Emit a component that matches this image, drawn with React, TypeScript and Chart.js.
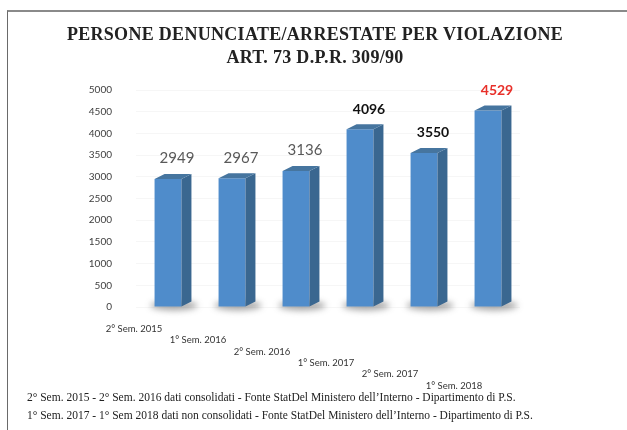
import React, { useEffect, useRef } from "react";
import { Chart, registerables } from "chart.js";

Chart.register(...registerables);

const TITLE_LINES = ["PERSONE DENUNCIATE/ARRESTATE PER VIOLAZIONE", "ART. 73 D.P.R. 309/90"];
const CATEGORIES = ["2° Sem. 2015", "1° Sem. 2016", "2° Sem. 2016", "1° Sem. 2017", "2° Sem. 2017", "1° Sem. 2018"];
const VALUES = [2949, 2967, 3136, 4096, 3550, 4529];
const LABEL_COLORS = ["#595959", "#595959", "#595959", "#111111", "#111111", "#e8302a"];
const LABEL_BOLD = [false, false, false, true, true, true];
const Y_MIN = 0;
const Y_MAX = 5000;
const Y_STEP = 500;
const FOOTNOTES = [
  "2° Sem. 2015 - 2° Sem. 2016 dati consolidati - Fonte StatDel Ministero dell’Interno - Dipartimento di P.S.",
  "1° Sem. 2017 - 1° Sem 2018 dati non consolidati - Fonte StatDel Ministero dell’Interno - Dipartimento di P.S.",
];

const FRONT = "#4f8ccb";
const SIDE = "#3a6790";
const TOP = "#46759f";
const DX = 10;
const DY = 5;

const bar3dPlugin = {
  id: "bar3d",
  beforeDatasetsDraw(chart: any) {
    const ctx = chart.ctx;
    const meta = chart.getDatasetMeta(0);
    ctx.save();
    meta.data.forEach((el: any) => {
      const { x, base, width } = el.getProps(["x", "base", "width"], true);
      ctx.save();
      ctx.filter = "blur(3px)";
      ctx.fillStyle = "rgba(60,60,60,0.45)";
      ctx.beginPath();
      ctx.ellipse(x + 6, base - 1, width / 2 + 10, 5, 0, 0, Math.PI * 2);
      ctx.fill();
      ctx.restore();
    });
    ctx.restore();
  },
  afterDatasetsDraw(chart: any) {
    const ctx = chart.ctx;
    const meta = chart.getDatasetMeta(0);
    ctx.save();
    meta.data.forEach((el: any, i: number) => {
      const { x, y, base, width } = el.getProps(["x", "y", "base", "width"], true);
      const l = x - width / 2;
      const r = x + width / 2;
      ctx.fillStyle = SIDE;
      ctx.beginPath();
      ctx.moveTo(r, y);
      ctx.lineTo(r + DX, y - DY);
      ctx.lineTo(r + DX, base - DY);
      ctx.lineTo(r, base);
      ctx.closePath();
      ctx.fill();
      ctx.fillStyle = TOP;
      ctx.beginPath();
      ctx.moveTo(l, y);
      ctx.lineTo(l + DX, y - DY);
      ctx.lineTo(r + DX, y - DY);
      ctx.lineTo(r, y);
      ctx.closePath();
      ctx.fill();

      const bold = LABEL_BOLD[i];
      ctx.font = (bold ? "bold 14px" : "15px") + " Lato, 'Open Sans', sans-serif";
      ctx.fillStyle = LABEL_COLORS[i];
      ctx.textAlign = "center";
      ctx.textBaseline = "bottom";
      ctx.fillText(String(VALUES[i]), x + 9, y - DY - 8);
    });
    ctx.restore();
  },
};

export default function App() {
  const ref = useRef<HTMLCanvasElement>(null);
  useEffect(() => {
    document.documentElement.style.overflow = "hidden";
    const chart = new Chart(ref.current as HTMLCanvasElement, {
      type: "bar",
      data: {
        labels: CATEGORIES,
        datasets: [
          {
            data: VALUES,
            backgroundColor: FRONT,
            borderWidth: 0,
            barPercentage: 0.84,
            categoryPercentage: 0.5,
          },
        ],
      },
      options: {
        responsive: false,
        animation: false,
        layout: { padding: { left: 68, right: 99, top: 82, bottom: 15 } },
        plugins: { legend: { display: false }, tooltip: { enabled: false }, title: { display: false } },
        scales: {
          x: {
            grid: { display: false, drawTicks: false },
            border: { display: false },
            afterFit: (s: any) => {
              s.height = 100;
            },
            ticks: {
              padding: 16,
              labelOffset: -34,
              maxRotation: 0,
              autoSkip: false,
              color: "#333333",
              font: { family: "Lato, 'Open Sans', sans-serif", size: 9.5 },
              callback: (_v: any, i: number) => [...Array(i).fill(""), CATEGORIES[i]],
            },
          },
          y: {
            min: Y_MIN,
            max: Y_MAX,
            grid: { color: "rgba(0,0,0,0.035)", drawTicks: false },
            border: { display: false },
            afterFit: (s: any) => {
              s.width = 60;
            },
            ticks: {
              stepSize: Y_STEP,
              padding: 24,
              color: "#404040",
              font: { family: "Lato, 'Open Sans', sans-serif", size: 10 },
              callback: (v: any) => String(v),
            },
          },
        },
      },
      plugins: [bar3dPlugin],
    });
    return () => chart.destroy();
  }, []);

  return (
    <div style={{ position: "relative", width: 611, height: 414 }}>
      <div
        style={{
          position: "fixed",
          left: 7,
          top: 10,
          width: 620,
          height: 420,
          borderTop: "2px solid #8a8a8a",
          borderLeft: "1px solid #6a6a6a",
        }}
      />
      <canvas ref={ref} width={611} height={414} style={{ position: "absolute", left: 0, top: 0 }} />
      <div
        style={{
          position: "absolute",
          left: 0,
          top: 15,
          width: 614,
          textAlign: "center",
          fontFamily: "'Liberation Serif', serif",
          fontWeight: "bold",
          fontSize: 18,
          lineHeight: "23px",
          color: "#222",
          letterSpacing: 0.3,
        }}
      >
        {TITLE_LINES.map((t) => (
          <div key={t}>{t}</div>
        ))}
      </div>
      <div
        style={{
          position: "absolute",
          left: 19,
          top: 380,
          fontFamily: "'Liberation Serif', serif",
          fontSize: 11.5,
          lineHeight: "18px",
          color: "#222",
          whiteSpace: "nowrap",
        }}
      >
        {FOOTNOTES.map((t) => (
          <div key={t}>{t}</div>
        ))}
      </div>
    </div>
  );
}
